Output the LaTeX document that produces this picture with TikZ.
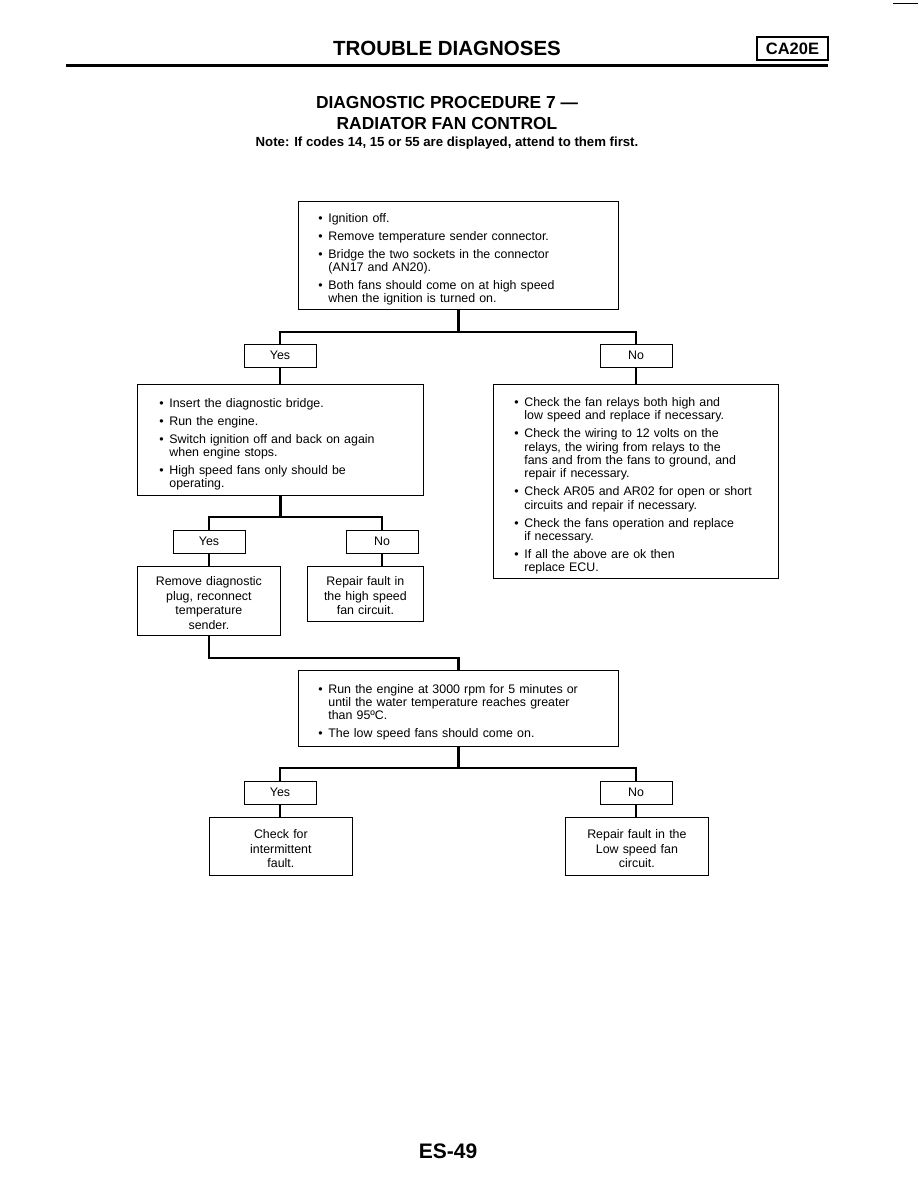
\documentclass[tikz,border=0pt]{standalone}
\usepackage{fontspec}
\setmainfont{Liberation Sans}
\newcommand\bodyfont{\fontsize{12.4}{13.3}\selectfont}
\newcommand\ctrfont{\fontsize{12.4}{14.6}\selectfont}
\newcommand\bu{\makebox[10pt][l]{\textbullet}}
\newcommand\ind{\hspace*{10pt}}
\newcommand\gap{\\[4.7pt]}
\newcommand\tsp[1]{\rule{0pt}{#1}}
\begin{document}
\begin{tikzpicture}[x=1pt,y=-1pt,
  box/.style={draw, line width=0.8pt, inner sep=0pt},
  bbox/.style={box, anchor=north west, align=left, font=\bodyfont, inner ysep=0pt},
  cbox/.style={box, anchor=north west, align=center, font=\ctrfont},
  yn/.style={draw, line width=0.8pt, minimum width=72pt, minimum height=23pt, inner sep=0pt, font=\fontsize{12.4}{14}\selectfont},
  conn/.style={line width=2.6pt, line join=miter}]
\useasboundingbox (0,0) rectangle (918,1188);

% header
\node[font=\bfseries\fontsize{20.5}{24}\selectfont] (title) at (447,48) {TROUBLE DIAGNOSES};
\node[draw, line width=1.3pt, minimum width=71pt, minimum height=23pt, inner sep=0pt,
      font=\bfseries\fontsize{16.5}{18}\selectfont] (code) at (792.5,48.5) {CA20E};
\coordinate (ruleL) at (66,66);
\coordinate (ruleR) at (828,66);
\draw[line width=3pt] (ruleL) -- (ruleR);
\coordinate (artL) at (893,3);
\coordinate (artR) at (918,3);
\draw[line width=0.8pt] (artL) -- (artR);

\node[font=\bfseries\fontsize{17.4}{20}\selectfont] (head1) at (447,103) {DIAGNOSTIC PROCEDURE 7 \textemdash};
\node[font=\bfseries\fontsize{17.4}{20}\selectfont] (head2) at (447,124) {RADIATOR FAN CONTROL};
\node[font=\bfseries\fontsize{13.2}{15}\selectfont] (note) at (447,143) {Note: If codes 14, 15 or 55 are displayed, attend to them first.};

% first check
\node[bbox, text width=280pt, inner xsep=20pt, minimum height=108pt] (b1) at (298,201)
 {\tsp{17pt}\bu Ignition off.\gap
  \bu Remove temperature sender connector.\gap
  \bu Bridge the two sockets in the connector\\
  \ind(AN17 and AN20).\gap
  \bu Both fans should come on at high speed\\
  \ind when the ignition is turned on.};

\node[yn] (yes1) at (280,355.5) {Yes};
\node[yn] (no1) at (636,355.5) {No};

\node[bbox, text width=242pt, inner xsep=22pt, minimum height=111pt] (b2) at (137,384)
 {\tsp{18pt}\bu Insert the diagnostic bridge.\gap
  \bu Run the engine.\gap
  \bu Switch ignition off and back on again\\
  \ind when engine stops.\gap
  \bu High speed fans only should be\\
  \ind operating.};

\node[bbox, text width=243pt, inner xsep=21pt, minimum height=194pt] (b3) at (493,384)
 {\tsp{18pt}\bu Check the fan relays both high and\\
  \ind low speed and replace if necessary.\gap
  \bu Check the wiring to 12 volts on the\\
  \ind relays, the wiring from relays to the\\
  \ind fans and from the fans to ground, and\\
  \ind repair if necessary.\gap
  \bu Check AR05 and AR02 for open or short\\
  \ind circuits and repair if necessary.\gap
  \bu Check the fans operation and replace\\
  \ind if necessary.\gap
  \bu If all the above are ok then\\
  \ind replace ECU.};

\node[yn] (yes2) at (209,541.5) {Yes};
\node[yn] (no2) at (382,541.5) {No};

\node[cbox, text width=143pt, minimum height=69pt] (rm) at (137,566)
 {\tsp{13pt}Remove diagnostic\\plug, reconnect\\temperature\\sender.};
\node[cbox, text width=116pt, minimum height=55pt] (rh) at (307,566)
 {\tsp{13pt}Repair fault in\\the high speed\\fan circuit.};

\node[bbox, text width=280pt, inner xsep=20pt, minimum height=76pt] (b4) at (298,670)
 {\tsp{17pt}\bu Run the engine at 3000 rpm for 5 minutes or\\
  \ind until the water temperature reaches greater\\
  \ind than 95ºC.\gap
  \bu The low speed fans should come on.};

\node[yn] (yes3) at (280,792.5) {Yes};
\node[yn] (no3) at (636,792.5) {No};

\node[cbox, text width=143pt, minimum height=58pt] (ck) at (209,817)
 {\tsp{14pt}Check for\\intermittent\\fault.};
\node[cbox, text width=143pt, minimum height=58pt] (rl) at (565,817)
 {\tsp{14pt}Repair fault in the\\Low speed fan\\circuit.};

\node[font=\bfseries\fontsize{21}{24}\selectfont] (page) at (448,1151) {ES-49};

% connectors
\coordinate (h1) at (0,332);
\coordinate (h2) at (0,517);
\coordinate (h3) at (0,658);
\coordinate (h4) at (0,768);
\draw[conn] (b1.south) -- (b1.south |- h1);
\draw[conn] (yes1.north) -- (yes1.north |- h1) -- (no1.north |- h1) -- (no1.north);
\draw[conn] (yes1.south) -- (yes1.south |- b2.north);
\draw[conn] (no1.south) -- (no1.south |- b3.north);
\draw[conn] (b2.south) -- (b2.south |- h2);
\draw[conn] (yes2.north) -- (yes2.north |- h2) -- (no2.north |- h2) -- (no2.north);
\draw[conn] (yes2.south) -- (yes2.south |- rm.north);
\draw[conn] (no2.south) -- (no2.south |- rh.north);
\draw[conn] (rm.south) -- (rm.south |- h3) -- (b4.north |- h3) -- (b4.north);
\draw[conn] (b4.south) -- (b4.south |- h4);
\draw[conn] (yes3.north) -- (yes3.north |- h4) -- (no3.north |- h4) -- (no3.north);
\draw[conn] (yes3.south) -- (yes3.south |- ck.north);
\draw[conn] (no3.south) -- (no3.south |- rl.north);
\end{tikzpicture}
\end{document}
